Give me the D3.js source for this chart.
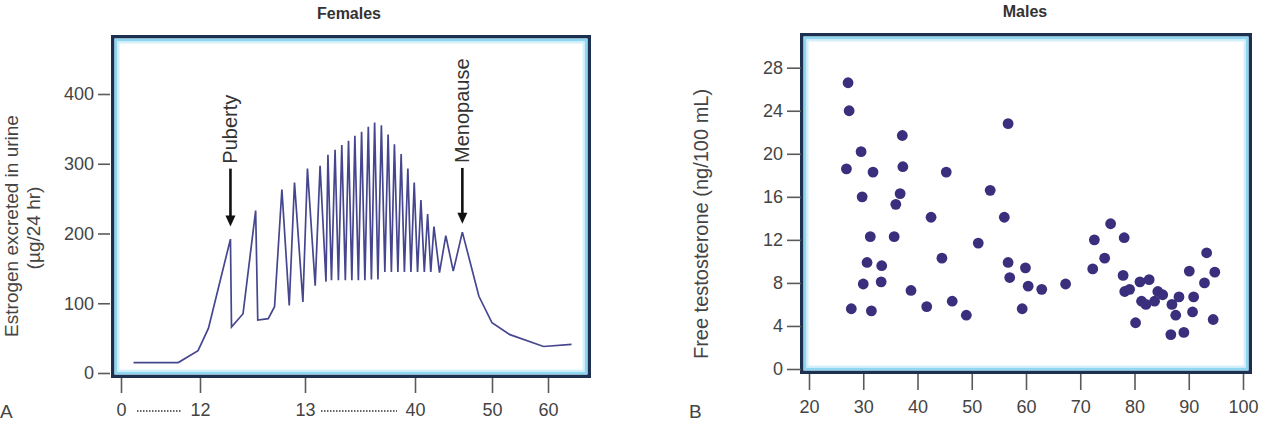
<!DOCTYPE html>
<html>
<head>
<meta charset="utf-8">
<script src="https://cdn.jsdelivr.net/npm/d3@7/dist/d3.min.js"></script>
<style>
  html, body { margin: 0; padding: 0; background: #fff; }
  svg { display: block; }
  text { font-family: "Liberation Sans", Arial, Helvetica, sans-serif; }
</style>
</head>
<body>
<svg id="chart" width="1269" height="429"></svg>
<script>
// ---------------- DATA ----------------
// Panel A: estrogen excreted in urine vs age (schematic age axis)
const femaleAge = [1.9, 8.7, 11.7, 12.08, 12.29, 12.30, 12.41, 12.53, 12.55, 12.65, 12.71, 12.78, 12.85, 12.90, 12.98,
  13.6, 15.5, 16.7, 18.15, 18.63, 19.5, 20.38, 21.2, 22.03, 22.9, 23.68, 24.5, 25.24, 26.1, 26.89, 27.7, 28.54, 29.3,
  30.09, 30.9, 31.75, 32.6, 33.40, 34.2, 34.95, 35.8, 36.60, 37.4, 38.25, 39.0, 39.81, 40.33, 40.77, 41.21, 41.64,
  42.05, 42.46, 43.18, 44.0, 44.97, 46.15, 48.3, 50.0, 53.2, 59.2, 64.2];
const femaleEstrogen = [15, 15, 32, 64, 192, 66, 85, 233, 76, 78, 95, 263, 97, 273, 102,
  293, 125, 297, 131, 313, 133, 320, 133, 327, 133, 333, 133, 340, 133, 346, 133, 353, 134,
  359, 134, 355, 145, 342, 145, 328, 145, 314, 145, 293, 145, 273, 145, 248, 145, 228,
  145, 210, 144, 197, 146, 202, 110, 72, 55, 38, 41];
const femaleXTicks = [0, 12, 13, 40, 50, 60];
const femaleXTickLabels = ["0", "12", "13", "40", "50", "60"];
const femaleXDotted = [[0, 12], [13, 40]];
const femaleYTicks = [0, 100, 200, 300, 400];
const femaleAnnotations = [
  { label: "Puberty", age: 12.29, tip: 210, tail: 293 },
  { label: "Menopause", age: 46.15, tip: 214, tail: 294 }
];

// Panel B: free testosterone vs age
const maleAge = [27.2, 27.4, 26.9, 27.8, 29.6, 29.8, 31.8, 31.3, 30.7, 30.0, 31.5, 33.4, 33.3, 37.2, 37.3, 36.8,
  36.0, 35.7, 38.8, 41.7, 42.5, 45.3, 44.5, 46.4, 49.0, 51.2, 53.4, 56.0, 56.7, 56.7, 57.0, 59.3, 59.9, 60.4,
  62.9, 67.3, 72.6, 72.3, 74.5, 75.6, 78.1, 77.9, 78.2, 79.1, 80.2, 81.0, 82.7, 81.3, 82.1, 83.7, 84.3, 85.2,
  86.9, 88.2, 87.6, 86.7, 89.1, 90.1, 90.9, 90.7, 93.3, 92.9, 94.8, 94.5];
const maleTestosterone = [26.6, 24.0, 18.6, 5.6, 20.2, 16.0, 18.3, 12.3, 9.9, 7.9, 5.4, 9.6, 8.1, 21.7, 18.8, 16.3,
  15.3, 12.3, 7.3, 5.8, 14.1, 18.3, 10.3, 6.3, 5.0, 11.7, 16.6, 14.1, 22.8, 9.9, 8.5, 5.6, 9.4, 7.7,
  7.4, 7.9, 12.0, 9.3, 10.3, 13.5, 12.2, 8.7, 7.2, 7.4, 4.3, 8.1, 8.3, 6.3, 6.0, 6.3, 7.2, 6.9,
  6.0, 6.7, 5.0, 3.2, 3.4, 9.1, 6.7, 5.3, 10.8, 8.0, 9.0, 4.6];
const maleXTicks = [20, 30, 40, 50, 60, 70, 80, 90, 100];
const maleYTicks = [0, 4, 8, 12, 16, 20, 24, 28];

// ---------------- LAYOUT / STYLE ----------------
const NAVY = "#1d3050", CYAN = "#8fd6f1", TICK = "#5a5a5a", LABEL = "#444";
const svg = d3.select("#chart");

const panelA = { left: 111, right: 591, top: 35, bottom: 378 };
const panelB = { left: 800, right: 1252, top: 33, bottom: 374 };

function frame(p) {
  const g = svg.append("g");
  g.append("rect")
    .attr("x", p.left + 1.75).attr("y", p.top + 1.75)
    .attr("width", p.right - p.left - 3.5).attr("height", p.bottom - p.top - 3.5)
    .attr("fill", "#fff").attr("stroke", NAVY).attr("stroke-width", 3.5);
  g.append("rect")
    .attr("x", p.left + 5).attr("y", p.top + 5)
    .attr("width", p.right - p.left - 10).attr("height", p.bottom - p.top - 10)
    .attr("fill", "none").attr("stroke", CYAN).attr("stroke-width", 3);
  g.append("rect")
    .attr("x", p.left + 7.5).attr("y", p.top + 7.5)
    .attr("width", p.right - p.left - 15).attr("height", p.bottom - p.top - 15)
    .attr("fill", "none").attr("stroke", "#d6f0fa").attr("stroke-width", 2);
}

function styleAxis(g) {
  g.select(".domain").remove();
  g.selectAll(".tick line").attr("stroke", TICK).attr("stroke-width", 1.6);
  g.selectAll(".tick text").attr("fill", LABEL)
    .style("font-family", "'Liberation Sans', Arial, sans-serif").style("font-size", "18px");
}

// ---------- Panel A ----------
frame(panelA);
const xA = d3.scaleLinear().domain(femaleXTicks).range([121, 200, 305, 415, 492, 548]);
const yA = d3.scaleLinear().domain([0, 400]).range([373, 94]);

svg.append("g").attr("transform", `translate(${panelA.left - 1},0)`)
  .call(d3.axisLeft(yA).tickValues(femaleYTicks).tickSize(12).tickPadding(4))
  .call(styleAxis);

svg.append("g").attr("transform", `translate(0,${panelA.bottom})`)
  .call(d3.axisBottom(xA).tickValues(femaleXTicks).tickFormat((d, i) => femaleXTickLabels[i]).tickSize(15).tickPadding(10))
  .call(styleAxis);

femaleXDotted.forEach(([a, b]) => {
  svg.append("line")
    .attr("x1", xA(a) + 16).attr("x2", xA(b) - 18)
    .attr("y1", panelA.bottom + 33).attr("y2", panelA.bottom + 33)
    .attr("stroke", "#666").attr("stroke-width", 1.8).attr("stroke-dasharray", "1.5,1.5");
});

const femalePts = femaleAge.map((a, i) => [a, femaleEstrogen[i]]);
svg.append("path")
  .attr("d", d3.line().x(d => xA(d[0])).y(d => yA(d[1]))(femalePts))
  .attr("fill", "none").attr("stroke", "#46468f").attr("stroke-width", 1.7)
  .attr("stroke-linejoin", "miter");

// arrows
femaleAnnotations.forEach(an => {
  const x = xA(an.age);
  const yTip = yA(an.tip), yTail = yA(an.tail);
  svg.append("line").attr("x1", x).attr("x2", x).attr("y1", yTail).attr("y2", yTip - 9)
    .attr("stroke", "#111").attr("stroke-width", 2.6);
  svg.append("path")
    .attr("d", `M${x - 5},${yTip - 11} L${x + 5},${yTip - 11} L${x},${yTip} Z`)
    .attr("fill", "#111");
  svg.append("text")
    .attr("transform", `translate(${x + 7},${yTail - 5}) rotate(-90)`)
    .attr("text-anchor", "start").attr("fill", "#333")
    .style("font-size", "20px").text(an.label);
});

svg.append("text").attr("x", (panelA.left + panelA.right) / 2 - 2).attr("y", 19)
  .attr("text-anchor", "middle").attr("fill", "#333").style("font-size", "16px").style("font-weight", "bold")
  .text("Females");

svg.append("text").attr("transform", "translate(18,226) rotate(-90)")
  .attr("text-anchor", "middle").attr("fill", LABEL).style("font-size", "19px")
  .text("Estrogen excreted in urine");
svg.append("text").attr("transform", "translate(40,228) rotate(-90)")
  .attr("text-anchor", "middle").attr("fill", LABEL).style("font-size", "19px")
  .text("(µg/24 hr)");
svg.append("text").attr("x", 0).attr("y", 418).attr("fill", LABEL).style("font-size", "19px").text("A");

// ---------- Panel B ----------
frame(panelB);
const xB = d3.scaleLinear().domain([20, 100]).range([809, 1243]);
const yB = d3.scaleLinear().domain([0, 28]).range([369, 67.7]);

svg.append("g").attr("transform", `translate(${panelB.left + 1},0)`)
  .call(d3.axisLeft(yB).tickValues(maleYTicks).tickSize(14).tickPadding(4))
  .call(styleAxis);

svg.append("g").attr("transform", `translate(0,${panelB.bottom})`)
  .call(d3.axisBottom(xB).tickValues(maleXTicks).tickSize(16).tickPadding(10))
  .call(styleAxis);

svg.append("g").selectAll("circle")
  .data(maleAge.map((a, i) => [a, maleTestosterone[i]]))
  .join("circle")
  .attr("cx", d => xB(d[0])).attr("cy", d => yB(d[1])).attr("r", 5.4)
  .attr("fill", "#3a2f7c");

svg.append("text").attr("x", (panelB.left + panelB.right) / 2 - 1).attr("y", 17)
  .attr("text-anchor", "middle").attr("fill", "#333").style("font-size", "16px").style("font-weight", "bold")
  .text("Males");

svg.append("text").attr("transform", "translate(708,224) rotate(-90)")
  .attr("text-anchor", "middle").attr("fill", LABEL).style("font-size", "20px")
  .text("Free testosterone (ng/100 mL)");
svg.append("text").attr("x", 689).attr("y", 418).attr("fill", LABEL).style("font-size", "19px").text("B");
</script>
</body>
</html>
